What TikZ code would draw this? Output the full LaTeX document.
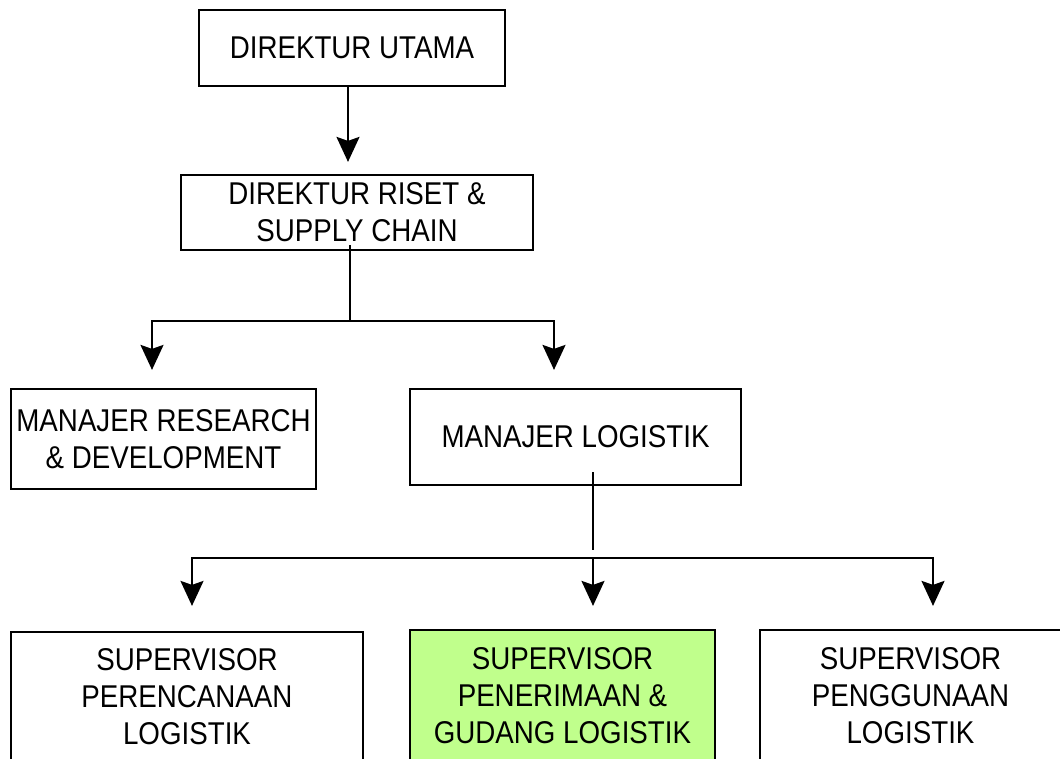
\documentclass[tikz,border=0pt]{standalone}
\usepackage{fontspec}
\setmainfont{Liberation Sans}[FakeStretch=0.88]
\usetikzlibrary{arrows.meta}
\definecolor{boxgreen}{RGB}{192,255,140}
\begin{document}
\begin{tikzpicture}[x=1pt,y=1pt,
  box/.style={draw=black, line width=2.2pt, align=center, inner sep=0pt,
    font=\fontsize{31.5}{37}\selectfont, text=black},
  conn/.style={line width=2pt, -{Stealth[length=25pt,width=23pt,inset=4pt,fill=black]}},
  plain/.style={line width=2pt}]
\useasboundingbox (0,0) rectangle (1060,-758);
\fill[white] (0,0) rectangle (1060,-758);

\node[box, minimum width=306pt, minimum height=76pt] (b1) at (352,-48) {DIREKTUR UTAMA};
\node[box, minimum width=352pt, minimum height=75pt] (b2) at (357,-212.5) {DIREKTUR RISET \&\\SUPPLY CHAIN};
\node[box, minimum width=305pt, minimum height=100pt] (b3) at (163.5,-439) {MANAJER RESEARCH\\\& DEVELOPMENT};
\node[box, minimum width=331pt, minimum height=96pt] (b4) at (575.5,-437) {MANAJER LOGISTIK};
\node[box, minimum width=352pt, minimum height=130pt] (b5) at (187,-697) {SUPERVISOR\\PERENCANAAN\\LOGISTIK};
\node[box, fill=boxgreen, minimum width=305pt, minimum height=132pt] (b6) at (562.5,-696) {SUPERVISOR\\PENERIMAAN \&\\GUDANG LOGISTIK};
\node[box, minimum width=301pt, minimum height=132pt] (b7) at (910.5,-696) {SUPERVISOR\\PENGGUNAAN\\LOGISTIK};

% level 1 -> 2
\coordinate (j1) at (348,0);
\draw[conn, shorten >=12pt] (j1 |- b1.south) -- (j1 |- b2.north);

% level 2 -> 3
\coordinate (h1) at (350,-321);
\coordinate (a3) at (152,0);
\coordinate (a4) at (554,0);
\draw[plain] ([yshift=6pt]h1 |- b2.south) -- (h1);
\draw[conn, shorten >=18pt] (h1) -| (a3 |- b3.north);
\draw[conn, shorten >=18pt] (h1) -| (a4 |- b4.north);

% level 3 -> 4
\coordinate (v2) at (593,-550);
\coordinate (h2) at (593,-558);
\coordinate (a5) at (192,0);
\coordinate (a7) at (933,0);
\draw[plain] ([yshift=14pt]v2 |- b4.south) -- (v2);
\draw[conn, shorten >=25pt] (h2) -| (a5 |- b5.north);
\draw[conn, shorten >=23pt] (h2) -- (h2 |- b6.north);
\draw[conn, shorten >=23pt] (h2) -| (a7 |- b7.north);
\end{tikzpicture}
\end{document}
